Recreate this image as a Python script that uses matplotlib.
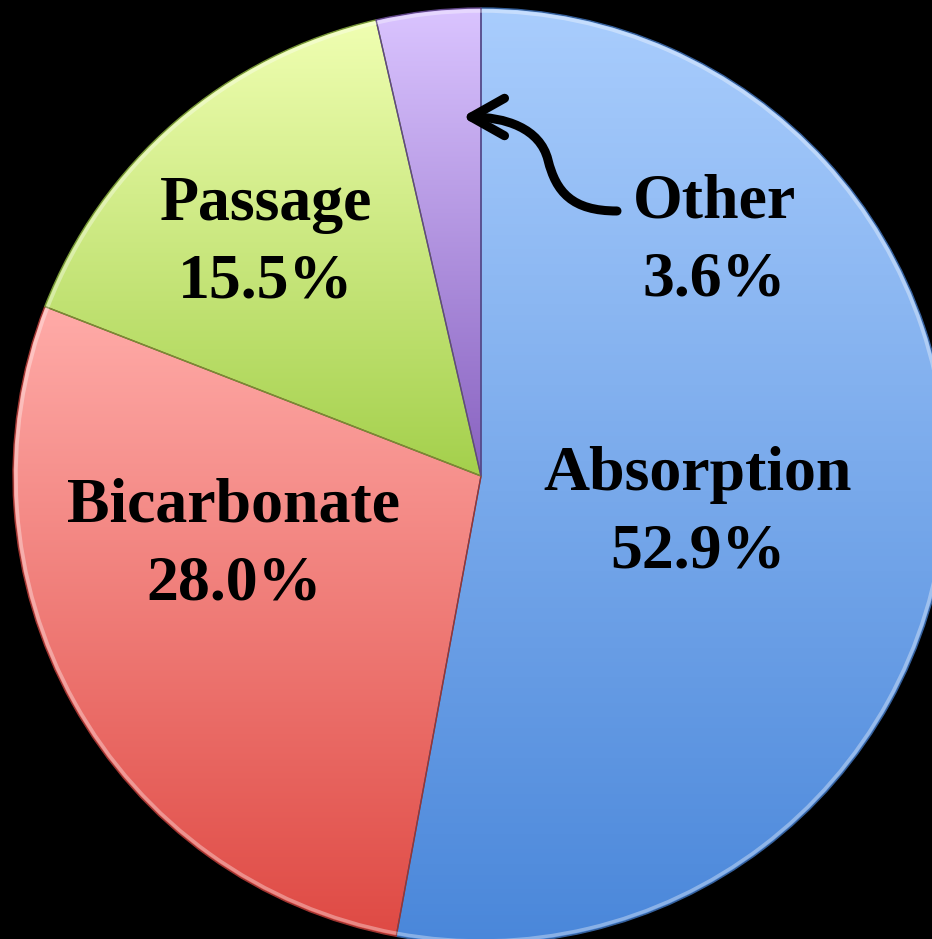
import numpy as np
import matplotlib
matplotlib.use("Agg")
import matplotlib.pyplot as plt
from matplotlib.colors import LinearSegmentedColormap, to_rgb
from matplotlib.patches import FancyArrowPatch, Arc
from matplotlib.path import Path

# slice data, clockwise from 12 o'clock
labels = ["Absorption", "Bicarbonate", "Passage", "Other"]
shares = [52.9, 28.0, 15.5, 3.6]
top_colors = ["#a9cdfd", "#ffaba8", "#f0ffb2", "#dac4ff"]
bottom_colors = ["#4a87da", "#df4a44", "#a4d04c", "#8862c0"]

W, H = 932, 939
CX, CY, R = 481, H - 476, 468

# label anchor points (pixels from top-left), name line / value line baselines
label_pos = {
    "Absorption": (698, 490, 567),
    "Bicarbonate": (234, 522, 600),
    "Passage": (266, 220, 297),
    "Other": (714, 218, 295),
}

fig = plt.figure(figsize=(W / 100, H / 100), dpi=100, facecolor="black")
ax = fig.add_axes([0, 0, 1, 1])
ax.set_facecolor("black")

wedges, _ = ax.pie(shares, startangle=90, counterclock=False,
                   center=(CX, CY), radius=R,
                   wedgeprops=dict(linewidth=0))

# vertical gradient per slice, clipped to the wedge
grad = np.linspace(0, 1, 256).reshape(-1, 1)
for w, c0, c1 in zip(wedges, top_colors, bottom_colors):
    w.set_facecolor("none")
    bb = w.get_path().get_extents()
    cmap = LinearSegmentedColormap.from_list("g", [c1, c0])
    im = ax.imshow(grad, cmap=cmap, origin="lower", aspect="auto",
                   extent=(bb.x0, bb.x1, bb.y0, bb.y1), zorder=1)
    im.set_clip_path(w)
    dark = tuple(v * 0.7 for v in to_rgb(c1))
    w.set_edgecolor(dark)
    w.set_linewidth(1.0)
    w.set_zorder(2)
    # soft bevel highlight along the rim
    hl = Arc((CX, CY), 2 * (R - 3), 2 * (R - 3), theta1=w.theta1, theta2=w.theta2,
             color="white", alpha=0.35, lw=2.5, zorder=3)
    ax.add_patch(hl)
    hl.set_clip_path(w)
ax.set_xlim(0, W)
ax.set_ylim(0, H)
ax.set_aspect("equal")
ax.axis("off")

for name, val in zip(labels, shares):
    x, y1, y2 = label_pos[name]
    kw = dict(ha="center", va="baseline", fontsize=46, fontweight="bold",
              family="Liberation Serif", color="black", zorder=5)
    ax.text(x, H - y1, name, **kw)
    ax.text(x, H - y2, f"{val:.1f}%", **kw)

# curved pointer from "Other" to its thin slice
verts = [(617, 211), (572, 211), (556, 192), (548, 160),
         (540, 128), (505, 117), (462, 117)]
verts = [(x, H - y) for x, y in verts]
codes = [Path.MOVETO] + [Path.CURVE4] * 6
arrow = FancyArrowPatch(path=Path(verts, codes),
                        arrowstyle="->,head_length=0.8,head_width=0.45",
                        mutation_scale=30, lw=6.5, color="black",
                        shrinkA=0, shrinkB=0, capstyle="round",
                        joinstyle="round", zorder=6)
ax.add_patch(arrow)

fig.savefig("out.png", dpi=100, facecolor="black")
